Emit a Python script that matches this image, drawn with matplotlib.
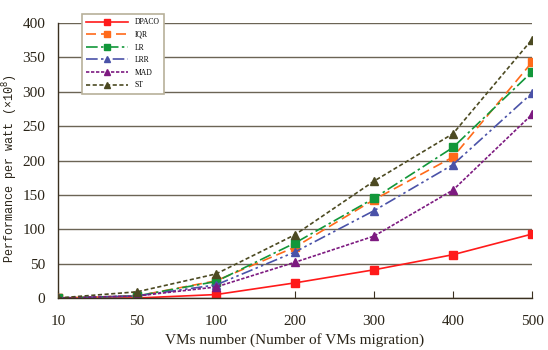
import matplotlib
matplotlib.use("Agg")
import matplotlib.pyplot as plt

# x categories (VMs number)
vms = ["10", "50", "100", "200", "300", "400", "500"]

# performance per watt (x10^8)
dpaco = [0, 0, 5, 22, 41, 63, 93]
iqr = [0, 3, 25, 74, 143, 205, 343]
lr = [0, 3, 24, 80, 145, 219, 329]
lrr = [0, 3, 19, 67, 127, 194, 298]
mad = [0, 3, 16, 52, 90, 157, 267]
st = [0, 9, 35, 92, 170, 239, 376]

series = [
    ("DPACO", dpaco, "#ff1a1a", "-", "s"),
    ("IQR", iqr, "#ff6a1a", (0, (6, 3)), "s"),
    ("LR", lr, "#12973a", (0, (7, 2, 1.5, 2)), "s"),
    ("LRR", lrr, "#4a52a8", (0, (7, 2, 1.5, 2, 1.5, 2)), "^"),
    ("MAD", mad, "#7d1a80", (0, (2, 1)), "^"),
    ("ST", st, "#4c4a22", (0, (2.5, 1.5)), "^"),
]

fig = plt.figure(figsize=(5.48, 3.5), dpi=100)
ax = fig.add_axes([58 / 548, 1 - 298 / 350, 474 / 548, 275 / 350])

x = list(range(len(vms)))
for name, vals, color, ls, mk in series:
    ax.plot(x, vals, color=color, linestyle=ls, linewidth=1.2,
            marker=mk, markersize=6, label=name, zorder=3)

ax.set_xlim(0, len(vms) - 1)
ax.set_ylim(0, 400)
ax.set_yticks(range(0, 401, 50))
ax.set_xticks(x)
ax.set_xticklabels(vms)

gridc = "#6b6455"
ax.yaxis.grid(True, color=gridc, linewidth=1.0)
ax.set_axisbelow(True)
for s in ["top", "right"]:
    ax.spines[s].set_visible(False)
for s in ["left", "bottom"]:
    ax.spines[s].set_color("#3a3020")
    ax.spines[s].set_linewidth(1.0)
ax.spines["bottom"].set_zorder(4)
ax.tick_params(axis="x", direction="in", length=5, color="#3a3020", pad=12)
ax.tick_params(axis="y", length=0, pad=9)
for lab in ax.get_xticklabels() + ax.get_yticklabels():
    lab.set_fontfamily("Liberation Serif")
    lab.set_fontsize(11)
    lab.set_color("#2a2418")

ax.set_xlabel("VMs number (Number of VMs migration)", fontfamily="Liberation Serif",
              fontsize=11, color="#2a2418", labelpad=4)
ax.set_ylabel("Performance per watt (×10$^8$)", fontfamily="Liberation Mono",
              fontsize=8.5, color="#2a2418", labelpad=0)
ax.yaxis.set_label_coords(-0.08, 0.47)

leg = fig.legend(loc="upper left", bbox_to_anchor=(78 / 548, 1 - 10 / 350),
                 prop={"family": "Liberation Serif", "size": 5.5},
                 handlelength=5.5, labelspacing=0.6, borderpad=0.6,
                 markerscale=0.7, fancybox=False, framealpha=1)
leg.get_frame().set_edgecolor("#b8b09a")
leg.get_frame().set_linewidth(1.2)

fig.savefig("out.png", dpi=100)
